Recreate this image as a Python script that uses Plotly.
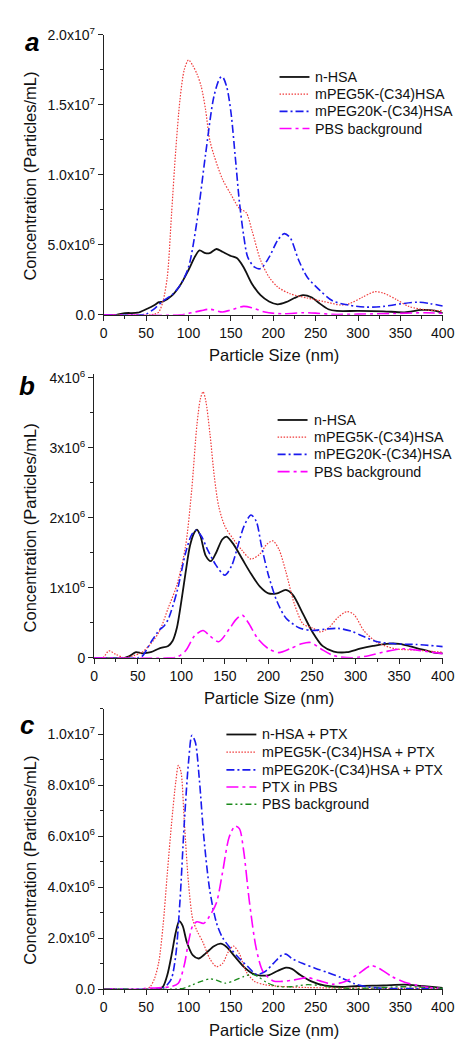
import plotly.graph_objects as go

# ---------------- data (concentration values in units of 10^6 particles/mL) ----------------
# Panel a
a_x_nhsa = [0,15,25,40,50,60,65,70,80,90,100,108,113,120,125,133,140,150,157,165,175,185,195,205,215,225,235,245,255,265,275,300,330,355,375,390,400]
a_y_nhsa = [0,0,0.12,0.15,0.4,0.7,0.9,0.95,1.35,2.1,3.2,4.2,4.6,4.4,4.4,4.7,4.5,4.2,4.05,3.4,2.2,1.4,0.95,0.75,0.9,1.2,1.4,1.25,0.8,0.4,0.28,0.28,0.25,0.18,0.35,0.3,0.12]
a_x_p5 = [0,55,60,65,70,75,80,85,90,95,100,105,110,115,120,125,130,140,150,160,168,175,185,195,205,220,240,260,280,290,305,320,330,345,360,380,400]
a_y_p5 = [0,0,0.05,0.2,1.0,2.7,7.2,11.8,15.4,17.5,18.2,17.8,17.2,16.3,14.7,12.5,11.4,9.7,8.6,7.6,7.3,6.0,3.9,2.7,2.0,1.5,1.2,0.95,0.7,0.8,1.25,1.65,1.55,1.1,0.6,0.35,0.3]
a_x_p20 = [0,45,50,60,70,80,90,100,110,120,130,137,140,145,150,155,160,165,170,178,185,195,205,213,220,230,240,255,270,290,310,330,350,370,385,400]
a_y_p20 = [0,0,0.05,0.45,1.0,1.4,2.1,3.4,6.7,11.4,15.6,16.9,17.0,16.3,14.5,11.4,8.1,5.7,4.1,3.4,3.3,4.1,5.3,5.8,5.5,3.9,2.7,1.75,1.0,0.68,0.55,0.6,0.78,0.9,0.8,0.63]
a_x_pbs = [0,90,100,115,125,140,150,165,175,190,210,235,250,270,300,350,380,400]
a_y_pbs = [0,0,0.1,0.3,0.4,0.2,0.35,0.6,0.5,0.2,0.07,0.15,0.12,0.03,0.05,0.1,0.15,0.1]

# Panel b
b_x_nhsa = [0,35,40,48,55,65,75,85,90,95,100,105,110,115,118,122,128,134,140,147,152,160,170,180,190,200,210,220,228,240,250,262,275,290,305,320,335,350,370,390,400]
b_y_nhsa = [0,0,0.02,0.08,0.065,0.08,0.135,0.17,0.24,0.43,0.8,1.22,1.6,1.79,1.83,1.74,1.46,1.38,1.5,1.69,1.73,1.62,1.41,1.2,1.02,0.92,0.92,0.97,0.9,0.62,0.38,0.17,0.09,0.08,0.13,0.17,0.2,0.2,0.14,0.075,0.065]
b_x_p5 = [0,10,17,25,35,45,55,65,75,85,95,105,112,118,122,125,128,133,138,143,150,160,170,180,190,198,205,212,220,230,240,250,260,270,280,290,298,310,325,345,370,400]
b_y_p5 = [0,0,0.1,0.05,0,0.03,0.08,0.2,0.38,0.71,1.04,1.6,2.4,3.33,3.7,3.8,3.68,3.19,2.58,2.16,1.88,1.69,1.53,1.41,1.48,1.62,1.67,1.55,1.23,0.76,0.48,0.43,0.37,0.44,0.58,0.66,0.62,0.38,0.22,0.13,0.11,0.08]
b_x_p20 = [0,50,55,65,75,80,85,95,105,112,117,123,130,140,150,158,165,172,180,186,192,200,210,220,235,250,265,280,295,310,325,345,370,400]
b_y_p20 = [0,0,0.02,0.22,0.4,0.45,0.55,0.94,1.5,1.76,1.82,1.74,1.55,1.32,1.18,1.32,1.6,1.88,2.04,1.95,1.6,1.18,0.8,0.57,0.43,0.39,0.41,0.42,0.38,0.3,0.23,0.2,0.19,0.16]
b_x_pbs = [0,85,95,105,115,125,133,143,155,163,170,177,188,200,212,225,238,248,260,275,295,315,335,355,375,400]
b_y_pbs = [0,0,0.01,0.1,0.31,0.39,0.31,0.23,0.41,0.55,0.61,0.5,0.27,0.13,0.075,0.13,0.2,0.22,0.13,0.03,0,0.03,0.09,0.13,0.1,0.06]

# Panel c
c_x_nhsa = [0,65,70,75,80,85,89,93,98,105,112,120,130,138,145,155,165,175,185,195,205,215,222,232,245,260,280,300,330,355,375,400]
c_y_nhsa = [0,0,0.1,0.55,1.33,2.23,2.67,2.49,1.85,1.33,1.2,1.39,1.68,1.78,1.65,1.26,0.88,0.62,0.53,0.55,0.71,0.84,0.79,0.55,0.3,0.14,0.08,0.12,0.14,0.17,0.12,0.05]
c_x_p5 = [0,50,55,60,65,70,75,80,85,88,91,95,100,105,110,117,125,133,140,147,153,160,168,178,190,210,240,280,320,360,400]
c_y_p5 = [0,0,0.1,0.42,1.07,2.5,4.55,6.5,8.15,8.78,8.55,6.6,4.16,2.74,2.29,1.84,1.2,0.88,1.0,1.46,1.69,1.39,0.68,0.3,0.17,0.1,0.06,0.04,0.03,0.03,0.02]
c_x_p20 = [0,65,70,75,80,85,90,95,100,104,108,113,118,125,133,140,150,160,170,180,190,200,210,215,222,235,250,265,280,295,310,330,360,400]
c_y_p20 = [0,0,0.04,0.17,0.42,1.33,3.5,6.5,8.9,9.96,9.7,8.15,6.0,3.9,2.6,2.03,1.58,1.2,0.88,0.58,0.68,1.0,1.33,1.37,1.2,1.0,0.81,0.64,0.45,0.22,0.09,0.03,0.02,0.01]
c_x_ptx = [0,45,50,60,70,80,88,95,100,105,110,118,125,133,140,148,155,160,165,172,180,188,200,210,225,240,255,270,285,300,315,325,340,355,370,385,400]
c_y_ptx = [0,0,0.03,0.04,0.06,0.1,0.23,0.94,1.85,2.49,2.64,2.58,2.87,3.39,4.55,5.97,6.4,6.3,5.45,3.39,1.58,0.68,0.32,0.3,0.36,0.45,0.32,0.19,0.3,0.58,0.92,0.81,0.49,0.27,0.14,0.06,0.03]
c_x_pbs = [0,85,95,105,115,125,133,143,155,165,175,182,192,205,220,240,255,270,290,320,350,370,400]
c_y_pbs = [0,0,0.04,0.17,0.3,0.4,0.35,0.23,0.35,0.49,0.58,0.49,0.26,0.1,0.09,0.17,0.14,0.06,0.03,0.04,0.09,0.08,0.03]

# tick labels
x_ticks = [0, 50, 100, 150, 200, 250, 300, 350, 400]
a_yticks = [0, 5, 10, 15, 20]
a_ylabels = ["0.0", "5.0x10<sup>6</sup>", "1.0x10<sup>7</sup>", "1.5x10<sup>7</sup>", "2.0x10<sup>7</sup>"]
b_yticks = [0, 1, 2, 3, 4]
b_ylabels = ["0", "1x10<sup>6</sup>", "2x10<sup>6</sup>", "3x10<sup>6</sup>", "4x10<sup>6</sup>"]
c_yticks = [0, 2, 4, 6, 8, 10]
c_ylabels = ["0.0", "2.0x10<sup>6</sup>", "4.0x10<sup>6</sup>", "6.0x10<sup>6</sup>", "8.0x10<sup>6</sup>", "1.0x10<sup>7</sup>"]

names_ab = ["n-HSA", "mPEG5K-(C34)HSA", "mPEG20K-(C34)HSA", "PBS background"]
names_c = ["n-HSA + PTX", "mPEG5K-(C34)HSA + PTX", "mPEG20K-(C34)HSA + PTX", "PTX in PBS", "PBS background"]

# ---------------- styles ----------------
FONT = "Liberation Sans, Arial, sans-serif"
W, H = 468, 1049
BLACK = dict(color="#111111", width=1.8, dash="solid")
RED = dict(color="#f03a3a", width=1.2, dash="1.5px,1.5px")
BLUE = dict(color="#1a1aee", width=1.6, dash="8px,3px,2px,3px")
MAG = dict(color="#ff00ff", width=1.6, dash="12px,4px,3px,4px")
GREEN = dict(color="#1a8a1a", width=1.3, dash="6px,3px,2px,3px,2px,3px")
STYLES_AB = [BLACK, RED, BLUE, MAG]
STYLES_C = [BLACK, RED, BLUE, MAG, GREEN]

fig = go.Figure()

def add(x, y, name, line, ax):
    fig.add_trace(go.Scatter(x=x, y=y, name=name, mode="lines", showlegend=False,
                             line=dict(shape="spline", smoothing=0.8, **line),
                             xaxis="x" + ax, yaxis="y" + ax))

add(a_x_nhsa, a_y_nhsa, names_ab[0], BLACK, "")
add(a_x_p5, a_y_p5, names_ab[1], RED, "")
add(a_x_p20, a_y_p20, names_ab[2], BLUE, "")
add(a_x_pbs, a_y_pbs, names_ab[3], MAG, "")

add(b_x_nhsa, b_y_nhsa, names_ab[0], BLACK, "2")
add(b_x_p5, b_y_p5, names_ab[1], RED, "2")
add(b_x_p20, b_y_p20, names_ab[2], BLUE, "2")
add(b_x_pbs, b_y_pbs, names_ab[3], MAG, "2")

add(c_x_nhsa, c_y_nhsa, names_c[0], BLACK, "3")
add(c_x_p5, c_y_p5, names_c[1], RED, "3")
add(c_x_p20, c_y_p20, names_c[2], BLUE, "3")
add(c_x_ptx, c_y_ptx, names_c[3], MAG, "3")
add(c_x_pbs, c_y_pbs, names_c[4], GREEN, "3")

def px_x(p):
    return p / W

def px_y(p):
    return 1 - p / H

tickfont = dict(family=FONT, size=14, color="#111111")

def xaxis(left, anchor):
    return dict(domain=[px_x(left), px_x(446)], range=[0, 400], anchor=anchor,
                tickvals=x_ticks, ticks="outside", ticklen=5, tickwidth=1, tickcolor="#222",
                minor=dict(ticks="outside", ticklen=3, dtick=25, tick0=0, tickcolor="#222"),
                showline=True, linecolor="#222", linewidth=1, showgrid=False, zeroline=False,
                tickfont=tickfont, fixedrange=True)

def yaxis(top, bottom, rng, vals, labels, minor_dtick, anchor):
    return dict(domain=[px_y(bottom), px_y(top)], range=rng, anchor=anchor,
                tickvals=vals, ticktext=labels, ticks="outside", ticklen=5, tickwidth=1, tickcolor="#222",
                minor=dict(ticks="outside", ticklen=3, dtick=minor_dtick, tick0=0, tickcolor="#222"),
                showline=True, linecolor="#222", linewidth=1, showgrid=False, zeroline=False,
                tickfont=tickfont, fixedrange=True)

annots = []
shapes = []
for lbl, xp, yp in [("a", 21, 24), ("b", 16, 374), ("c", 16, 719)]:
    annots.append(dict(text="<b><i>" + lbl + "</i></b>", x=px_x(xp), y=px_y(yp), xref="paper", yref="paper",
                       xanchor="center", yanchor="middle",
                       showarrow=False, font=dict(family=FONT, size=26, color="#000")))
for yp in [161, 519, 857]:
    annots.append(dict(text="Concentration (Particles/mL)", x=px_x(19), y=px_y(yp), xref="paper", yref="paper",
                       xanchor="center", yanchor="middle",
                       showarrow=False, textangle=-90, font=dict(family=FONT, size=16.5, color="#111")))
for xp, yp in [(271, 343), (266, 692), (271, 1030)]:
    annots.append(dict(text="Particle Size (nm)", x=px_x(xp), y=px_y(yp), xref="paper", yref="paper",
                       xanchor="center", yanchor="middle",
                       showarrow=False, font=dict(family=FONT, size=16.5, color="#111")))

# legends (key line + label) for each panel
def legend_block(names, styles, x0, x1, xt, rows):
    for name, st, yp in zip(names, styles, rows):
        shapes.append(dict(type="line", xref="paper", yref="paper",
                           x0=px_x(x0), x1=px_x(x1), y0=px_y(yp), y1=px_y(yp),
                           line=dict(color=st["color"], width=st["width"], dash=st["dash"])))
        annots.append(dict(text=name, x=px_x(xt), y=px_y(yp), xref="paper", yref="paper",
                           xanchor="left", yanchor="middle", showarrow=False,
                           font=dict(family=FONT, size=14.3, color="#111")))

legend_block(names_ab, STYLES_AB, 277, 308, 312, [60, 77.5, 95, 112.5])
legend_block(names_ab, STYLES_AB, 275, 306, 311, [409, 426.5, 444, 461.5])
legend_block(names_c, STYLES_C, 222, 253, 257, [729, 747, 765, 782.5, 800])

fig.update_layout(
    width=W, height=H,
    margin=dict(l=0, r=0, t=0, b=0),
    paper_bgcolor="white", plot_bgcolor="white",
    font=dict(family=FONT, color="#111"),
    xaxis=xaxis(95, "y"),
    yaxis=yaxis(17, 302, [0, 20], a_yticks, a_ylabels, 2.5, "x"),
    xaxis2=xaxis(85, "y2"),
    yaxis2=yaxis(362.4, 651, [0, 4.05], b_yticks, b_ylabels, 0.5, "x2"),
    xaxis3=xaxis(95, "y3"),
    yaxis3=yaxis(703, 988, [0, 11.0], c_yticks, c_ylabels, 1.0, "x3"),
    annotations=annots,
    shapes=shapes,
    showlegend=False,
)

fig.write_html("out.html")
